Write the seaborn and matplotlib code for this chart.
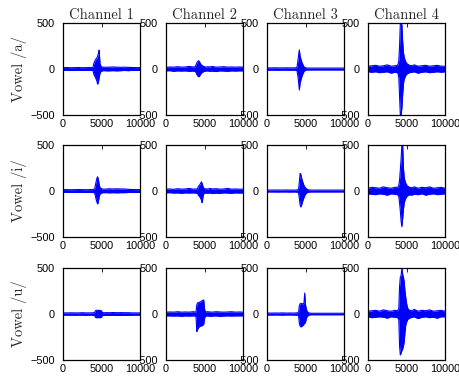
import matplotlib
matplotlib.use("Agg")
import matplotlib.pyplot as plt
import seaborn as sns
import numpy as np

samples = [0, 500, 1000, 1500, 2000, 2500, 3000, 3500, 3800, 3900,
           4000, 4100, 4200, 4300, 4400, 4500, 4600, 4700, 4800, 4900,
           5000, 5100, 5200, 5400, 5700, 6000, 6500, 7000, 7500, 8000,
           8500, 9000, 9500, 10000]

channels = ["Channel 1", "Channel 2", "Channel 3", "Channel 4"]
vowels = ["Vowel /a/", "Vowel /i/", "Vowel /u/"]
x_ticks = [0, 5000, 10000]
y_ticks = [-500, 0, 500]

# upper / lower envelopes (amplitude) per vowel and channel
a_ch1_hi = [15, 16, 14, 15, 16, 14, 15, 16, 15, 20, 60, 80, 100, 110, 120, 140, 170, 205, 60, 35, 25, 20, 20, 18, 20, 20, 22, 20, 18, 20, 18, 16, 15, 15]
a_ch1_lo = [-15, -14, -16, -15, -14, -16, -15, -14, -16, -18, -55, -75, -90, -110, -130, -165, -140, -90, -45, -30, -25, -20, -18, -18, -20, -20, -18, -20, -18, -16, -18, -15, -15, -15]
a_ch2_hi = [18, 22, 20, 25, 20, 22, 28, 22, 25, 45, 65, 80, 90, 85, 70, 55, 45, 38, 32, 28, 25, 22, 20, 25, 22, 28, 20, 22, 25, 20, 22, 20, 22, 20]
a_ch2_lo = [-20, -18, -25, -20, -22, -20, -25, -22, -25, -40, -60, -75, -80, -85, -70, -55, -45, -38, -32, -28, -25, -22, -22, -20, -25, -22, -28, -20, -22, -25, -20, -22, -20, -20]
a_ch3_hi = [12, 12, 13, 12, 12, 13, 12, 12, 14, 20, 80, 150, 207, 140, 110, 80, 60, 40, 25, 18, 15, 12, 10, 10, 10, 10, 10, 10, 10, 10, 10, 10, 10, 10]
a_ch3_lo = [-12, -12, -12, -13, -12, -12, -13, -12, -14, -20, -70, -140, -228, -150, -120, -90, -65, -45, -28, -18, -15, -12, -10, -10, -10, -10, -10, -10, -10, -10, -10, -10, -10, -10]
a_ch4_hi = [30, 35, 40, 30, 35, 45, 30, 35, 40, 50, 90, 250, 500, 500, 480, 300, 180, 130, 100, 80, 65, 55, 50, 40, 35, 45, 30, 35, 40, 30, 35, 40, 30, 30]
a_ch4_lo = [-30, -35, -30, -40, -35, -30, -45, -35, -40, -50, -90, -300, -500, -500, -420, -280, -160, -110, -90, -70, -60, -50, -45, -40, -35, -30, -45, -35, -30, -40, -35, -30, -35, -30]

i_ch1_hi = [15, 15, 14, 15, 16, 15, 14, 15, 15, 16, 18, 20, 60, 100, 140, 155, 120, 70, 40, 30, 25, 22, 20, 20, 22, 24, 22, 24, 22, 22, 18, 16, 15, 15]
i_ch1_lo = [-15, -14, -15, -16, -15, -14, -15, -15, -15, -16, -18, -20, -50, -90, -120, -141, -110, -60, -35, -25, -22, -20, -18, -18, -18, -20, -18, -20, -18, -18, -16, -15, -15, -15]
i_ch2_hi = [20, 22, 18, 25, 20, 22, 28, 20, 22, 22, 24, 25, 50, 60, 70, 85, 100, 80, 50, 30, 25, 22, 25, 20, 28, 22, 25, 20, 22, 28, 20, 22, 20, 20]
i_ch2_lo = [-20, -18, -22, -20, -25, -20, -22, -20, -22, -22, -24, -25, -45, -55, -65, -80, -100, -127, -60, -30, -25, -22, -20, -25, -20, -28, -22, -25, -20, -22, -25, -20, -22, -20]
i_ch3_hi = [10, 10, 11, 10, 10, 11, 10, 10, 11, 12, 14, 20, 100, 190, 180, 140, 110, 85, 60, 45, 35, 25, 20, 12, 10, 10, 10, 10, 10, 10, 10, 10, 10, 10]
i_ch3_lo = [-10, -10, -10, -11, -10, -10, -11, -10, -11, -12, -14, -20, -80, -150, -174, -150, -120, -95, -70, -50, -35, -25, -18, -12, -10, -10, -10, -10, -10, -10, -10, -10, -10, -10]
i_ch4_hi = [30, 40, 35, 30, 45, 35, 30, 40, 40, 45, 60, 120, 230, 350, 500, 500, 250, 150, 110, 85, 70, 55, 50, 40, 35, 45, 30, 40, 35, 45, 30, 35, 40, 30]
i_ch4_lo = [-30, -35, -40, -30, -35, -45, -30, -35, -40, -45, -60, -130, -220, -330, -388, -300, -200, -130, -100, -80, -65, -55, -50, -40, -45, -35, -40, -30, -45, -35, -30, -40, -35, -30]

u_ch1_hi = [12, 12, 13, 12, 12, 14, 12, 12, 13, 13, 14, 15, 35, 40, 40, 40, 40, 38, 40, 38, 35, 15, 14, 14, 15, 14, 16, 14, 15, 14, 14, 12, 12, 12]
u_ch1_lo = [-12, -12, -12, -13, -12, -12, -14, -12, -13, -13, -14, -15, -35, -40, -40, -40, -38, -40, -40, -38, -35, -15, -14, -14, -14, -15, -14, -16, -14, -15, -14, -12, -12, -12]
u_ch2_hi = [20, 22, 20, 25, 20, 22, 20, 25, 22, 25, 100, 120, 125, 125, 130, 135, 140, 145, 150, 152, 60, 25, 22, 25, 22, 20, 25, 22, 20, 22, 25, 20, 22, 20]
u_ch2_lo = [-20, -20, -22, -20, -25, -20, -22, -20, -22, -25, -190, -170, -150, -140, -135, -130, -130, -125, -120, -110, -50, -25, -22, -20, -25, -22, -20, -25, -22, -20, -22, -20, -20, -20]
u_ch3_hi = [10, 10, 11, 10, 12, 10, 11, 10, 12, 12, 14, 20, 90, 110, 115, 115, 110, 110, 120, 228, 100, 60, 30, 12, 8, 8, 8, 8, 8, 8, 8, 8, 8, 8]
u_ch3_lo = [-10, -11, -10, -10, -12, -10, -10, -11, -12, -12, -14, -20, -100, -130, -141, -135, -130, -120, -110, -100, -90, -50, -30, -12, -8, -8, -8, -8, -8, -8, -8, -8, -8, -8]
u_ch4_hi = [30, 35, 40, 30, 45, 35, 30, 40, 35, 45, 60, 300, 400, 420, 500, 430, 400, 350, 250, 180, 120, 80, 55, 40, 35, 50, 30, 40, 35, 45, 30, 35, 40, 30]
u_ch4_lo = [-30, -40, -35, -30, -35, -45, -30, -35, -40, -45, -60, -350, -446, -420, -400, -380, -350, -300, -200, -120, -90, -70, -55, -45, -35, -30, -50, -35, -30, -40, -35, -45, -30, -30]

envelopes = [
    [(a_ch1_hi, a_ch1_lo), (a_ch2_hi, a_ch2_lo), (a_ch3_hi, a_ch3_lo), (a_ch4_hi, a_ch4_lo)],
    [(i_ch1_hi, i_ch1_lo), (i_ch2_hi, i_ch2_lo), (i_ch3_hi, i_ch3_lo), (i_ch4_hi, i_ch4_lo)],
    [(u_ch1_hi, u_ch1_lo), (u_ch2_hi, u_ch2_lo), (u_ch3_hi, u_ch3_lo), (u_ch4_hi, u_ch4_lo)],
]

sns.set_style("white")
plt.rcParams['font.family'] = ['Liberation Sans', 'DejaVu Sans']
plt.rcParams['axes.unicode_minus'] = True

W, H = 459, 382
fig = plt.figure(figsize=(W / 100, H / 100), dpi=100)

col_left = [63, 166, 267, 368]
row_top = [23, 145, 268]
ax_w, ax_h = 77, 92

for r in range(3):
    for c in range(4):
        ax = fig.add_axes([col_left[c] / W, 1 - (row_top[r] + ax_h) / H, ax_w / W, ax_h / H])
        hi, lo = envelopes[r][c]
        ax.fill_between(samples, lo, hi, color='blue', linewidth=0)
        sns.lineplot(x=samples, y=hi, ax=ax, color='blue', linewidth=0.8)
        sns.lineplot(x=samples, y=lo, ax=ax, color='blue', linewidth=0.8)
        ax.set_xlim(0, 10000)
        ax.set_ylim(-500, 500)
        ax.set_xticks(x_ticks)
        ax.set_yticks(y_ticks)
        ax.tick_params(direction='in', top=True, right=True, length=3, width=0.6,
                       labelsize=7.8, colors='black')
        ax.tick_params(axis='x', pad=3)
        ax.tick_params(axis='y', pad=6)
        for s in ax.spines.values():
            s.set_visible(True)
            s.set_color('black')
            s.set_linewidth(0.9)
        if r == 0:
            ax.set_title(channels[c], fontsize=10.5, family='cmr10', pad=3)
        if c == 0:
            ax.set_ylabel(vowels[r], fontsize=10.5, family='cmr10')
            ax.yaxis.set_label_coords(-0.47, 0.5)

fig.savefig("out.png", dpi=100, facecolor='white')
